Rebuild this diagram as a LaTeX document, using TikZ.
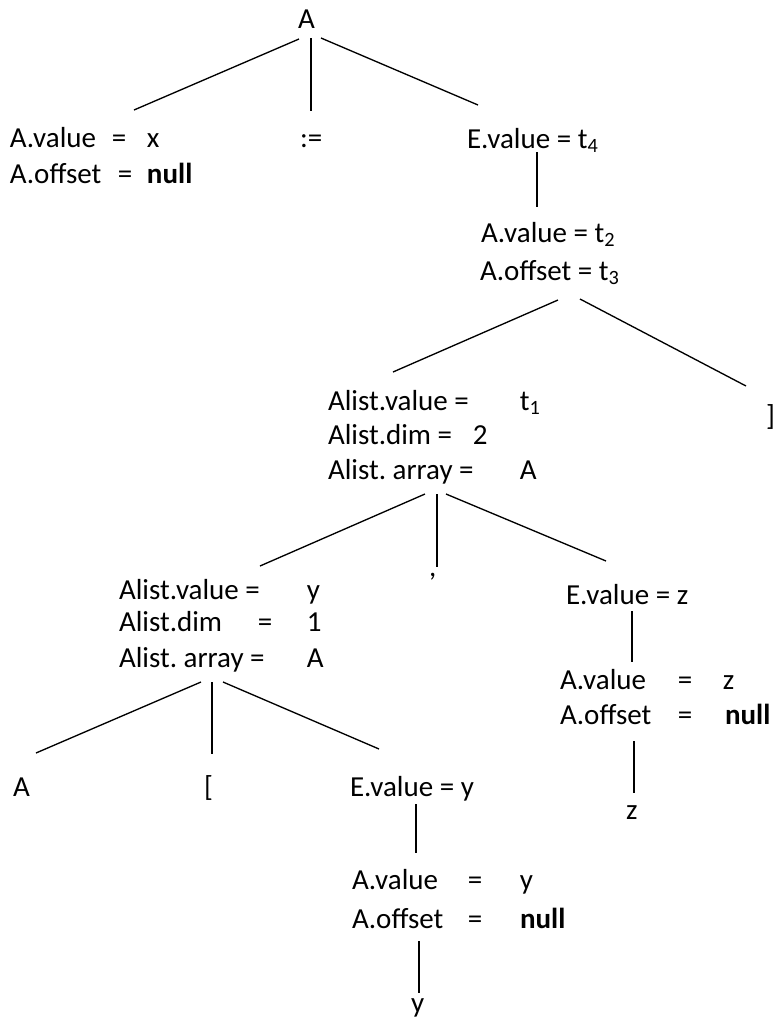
\documentclass[tikz,border=0pt]{standalone}
\usepackage{fontspec}
\setmainfont{Carlito}
\usetikzlibrary{calc}
\frenchspacing
% fixed-width field for tab-aligned attribute columns
\newcommand\fieldbox[2]{\makebox[#1][l]{#2}}
\begin{document}
\begin{tikzpicture}[x=0.75pt,y=-0.75pt,
  lbl/.style={anchor=base west,inner sep=0pt,outer sep=0pt,
              font=\fontsize{21.75}{26}\selectfont},
  edge/.style={line width=1pt}]
\useasboundingbox (0,0) rectangle (776,1026);

% ---- nodes ----
\node[lbl] (root) at (298,28) {A};

\node[lbl] (av1) at (10,147) {\fieldbox{76.5pt}{A.value}\fieldbox{26.25pt}{=}x};
\node[lbl] (ao1) at (10,183) {\fieldbox{81pt}{A.offset}\fieldbox{21.75pt}{=}\textbf{null}};
\node[lbl] (assign) at (300,147) {:=};
\node[lbl] (ev4) at (467,148) {E.value = t\textsubscript{4}};

\node[lbl] (av2) at (481,242) {A.value = t\textsubscript{2}};
\node[lbl] (ao2) at (480,280) {A.offset = t\textsubscript{3}};

\node[lbl] (l1v) at (328,410) {\fieldbox{144pt}{Alist.value =}t\textsubscript{1}};
\node[lbl] (l1d) at (328,444) {\fieldbox{108.75pt}{Alist.dim =}2};
\node[lbl] (l1a) at (328,479) {\fieldbox{144pt}{Alist. array =}A};
\node[lbl] (rbr) at (766,425) {]};

\node[lbl] (l2v) at (119,599) {\fieldbox{141pt}{Alist.value =}y};
\node[lbl] (l2d) at (119,631) {\fieldbox{104.25pt}{Alist.dim}\fieldbox{36.75pt}{=}1};
\node[lbl] (l2a) at (119,667) {\fieldbox{141pt}{Alist. array =}A};
\node[lbl] (comma) at (429,576) {,};

\node[lbl] (evz) at (566,604) {E.value = z};
\node[lbl] (avz) at (560,689) {\fieldbox{88.5pt}{A.value}\fieldbox{33.75pt}{=}z};
\node[lbl] (aoz) at (560,724) {\fieldbox{88.5pt}{A.offset}\fieldbox{35.25pt}{=}\textbf{null}};
\node[lbl] (zleaf) at (626,819) {z};

\node[lbl] (leafA) at (13,796) {A};
\node[lbl] (lbr) at (204,796) {[};
\node[lbl] (evy) at (350,796) {E.value = y};
\node[lbl] (avy) at (352,889) {\fieldbox{87pt}{A.value}\fieldbox{39pt}{=}y};
\node[lbl] (aoy) at (352,928) {\fieldbox{87pt}{A.offset}\fieldbox{39pt}{=}\textbf{null}};
\node[lbl] (yleaf) at (411,1012) {y};

% ---- connectors ----
\draw[edge] ($(root.base west)+(1,11)$)  -- ($(av1.base west)+(124,-37)$);
\draw[edge] ($(root.base west)+(13,10)$) -- ($(assign.base west)+(11,-36)$);
\draw[edge] ($(root.base west)+(23,10)$) -- ($(ev4.base west)+(11,-43)$);

\draw[edge] ($(ev4.base west)+(70,4)$) -- ($(av2.base west)+(56,-35)$);

\draw[edge] ($(ao2.base west)+(78,20)$)  -- ($(l1v.base west)+(65,-38)$);
\draw[edge] ($(ao2.base west)+(100,19)$) -- ($(rbr.base west)+(-20,-39)$);

\draw[edge] ($(l1a.base west)+(97,15)$)  -- ($(l2v.base west)+(141,-33)$);
\draw[edge] ($(l1a.base west)+(109,15)$) -- ($(comma.base west)+(8,-9)$);
\draw[edge] ($(l1a.base west)+(118,15)$) -- ($(evz.base west)+(40,-43)$);

\draw[edge] ($(evz.base west)+(66,7)$) -- ($(avz.base west)+(72,-27)$);
\draw[edge] ($(aoz.base west)+(74,17)$) -- ($(zleaf.base west)+(8,-26)$);

\draw[edge] ($(l2a.base west)+(82,15)$)  -- ($(leafA.base west)+(23,-43)$);
\draw[edge] ($(l2a.base west)+(93,15)$)  -- ($(lbr.base west)+(8,-42)$);
\draw[edge] ($(l2a.base west)+(104,15)$) -- ($(evy.base west)+(29,-47)$);

\draw[edge] ($(evy.base west)+(66,8)$) -- ($(avy.base west)+(64,-36)$);
\draw[edge] ($(aoy.base west)+(67,13)$) -- ($(yleaf.base west)+(8,-19)$);
\end{tikzpicture}
\end{document}
